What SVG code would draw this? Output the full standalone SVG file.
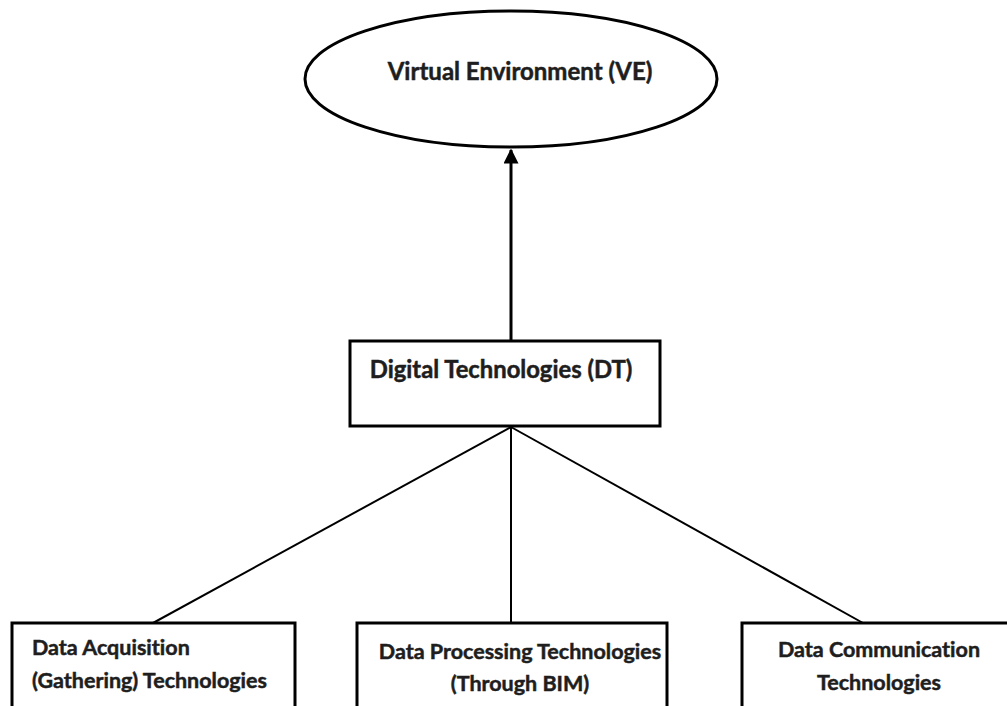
<svg xmlns="http://www.w3.org/2000/svg" width="1007" height="706" viewBox="0 0 1007 706">
  <defs>
    <marker id="arrow" viewBox="0 0 10 10" refX="9" refY="5" markerWidth="5" markerHeight="5" markerUnits="strokeWidth" orient="auto">
      <path d="M0,0 L10,5 L0,10 z" fill="#000"/>
    </marker>
    <style>
      .box { fill: #fff; stroke: #000; stroke-width: 3; }
      .link { stroke: #000; stroke-width: 2; fill: none; }
      .main { stroke-width: 3; }
      .label { font-family: Lato, "Liberation Sans", sans-serif; font-weight: bold; fill: #1e1e1e; stroke: #1e1e1e; stroke-width: 0.5; font-variant-ligatures: none; }
    </style>
  </defs>
  <rect width="1007" height="706" fill="#fff"/>

  <g id="connectors">
    <line class="link main" x1="511" y1="341" x2="511" y2="150" marker-end="url(#arrow)"/>
    <line class="link" x1="511" y1="427" x2="153" y2="623"/>
    <line class="link" x1="511" y1="427" x2="511" y2="623"/>
    <line class="link" x1="511" y1="427" x2="863" y2="623"/>
  </g>

  <g id="ve">
    <ellipse class="box" cx="511" cy="79" rx="206" ry="68"/>
    <text class="label" x="520" y="80" font-size="24" text-anchor="middle">Virtual Environment (VE)</text>
  </g>

  <g id="dt">
    <rect class="box" x="350" y="341" width="310" height="85"/>
    <text class="label" x="501" y="378" font-size="23.8" text-anchor="middle">Digital Technologies (DT)</text>
  </g>

  <g id="acquisition">
    <rect class="box" x="12" y="623" width="283" height="100"/>
    <text class="label" x="32" y="655" font-size="21.5">Data Acquisition</text>
    <text class="label" x="32" y="688" font-size="21.5">(Gathering) Technologies</text>
  </g>

  <g id="processing">
    <rect class="box" x="357" y="623" width="310" height="100"/>
    <text class="label" x="520" y="659" font-size="21.5" text-anchor="middle">Data Processing Technologies</text>
    <text class="label" x="520" y="691" font-size="21.5" text-anchor="middle">(Through BIM)</text>
  </g>

  <g id="communication">
    <rect class="box" x="742" y="623" width="280" height="100"/>
    <text class="label" x="879" y="657" font-size="21.5" text-anchor="middle">Data Communication</text>
    <text class="label" x="879" y="690" font-size="21.5" text-anchor="middle">Technologies</text>
  </g>
</svg>
